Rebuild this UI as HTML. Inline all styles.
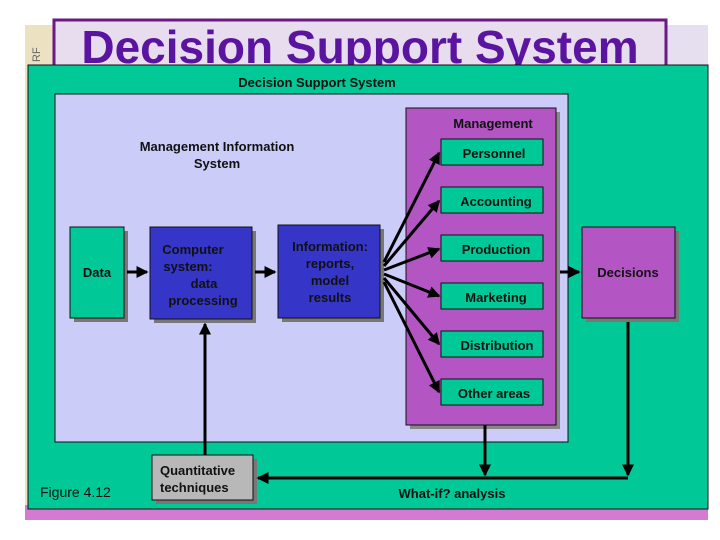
<!DOCTYPE html>
<html><head><style>
html,body{margin:0;padding:0;background:#fff;width:720px;height:540px;overflow:hidden}
svg{display:block}
text{font-family:"Liberation Sans",sans-serif;font-weight:bold;fill:#111}
</style></head><body>
<svg width="720" height="540" viewBox="0 0 720 540">
<defs>
<marker id="a" markerWidth="4" markerHeight="4" refX="3.5" refY="2" orient="auto" markerUnits="strokeWidth"><path d="M0,0L4,2L0,4z" fill="#000"/></marker>
<linearGradient id="bg" x1="0" y1="0" x2="1" y2="0"><stop offset="0" stop-color="#ece2c0"/><stop offset="0.5" stop-color="#e8e0ee"/><stop offset="1" stop-color="#e6dff0"/></linearGradient>
</defs>
<rect x="25" y="25" width="683" height="495" fill="url(#bg)"/>
<rect x="25" y="505" width="683" height="15" fill="#d47ad0"/>
<rect x="54" y="20" width="612" height="60" fill="#e8dcef" stroke="#6a1a80" stroke-width="3"/>
<text x="360" y="63" text-anchor="middle" style="font-size:46px;fill:#5a14a0">Decision Support System</text>
<text x="40" y="62" transform="rotate(-90 40 62)" style="font-size:11px;font-weight:normal;fill:#666">RF</text>
<rect x="28" y="65" width="680" height="444" fill="#00c896" stroke="#111" stroke-width="1"/>
<text x="317" y="87" text-anchor="middle" style="font-size:13px">Decision Support System</text>
<rect x="55" y="94" width="513" height="348" fill="#ccccf8" stroke="#111"/>
<text x="217" y="151" text-anchor="middle" style="font-size:13px">Management Information</text>
<text x="217" y="168" text-anchor="middle" style="font-size:13px">System</text>
<rect x="410" y="112" width="150" height="317" fill="#888"/>
<rect x="406" y="108" width="150" height="317" fill="#b455c4" stroke="#111"/>
<text x="493" y="128" text-anchor="middle" style="font-size:13px">Management</text>
<g style="font-size:13px" text-anchor="middle">
<rect x="441" y="139" width="102" height="26" fill="#00c896" stroke="#111"/><text x="494" y="158">Personnel</text>
<rect x="441" y="187" width="102" height="26" fill="#00c896" stroke="#111"/><text x="496" y="206">Accounting</text>
<rect x="441" y="235" width="102" height="26" fill="#00c896" stroke="#111"/><text x="496" y="254">Production</text>
<rect x="441" y="283" width="102" height="26" fill="#00c896" stroke="#111"/><text x="496" y="302">Marketing</text>
<rect x="441" y="331" width="102" height="26" fill="#00c896" stroke="#111"/><text x="497" y="350">Distribution</text>
<rect x="441" y="379" width="102" height="26" fill="#00c896" stroke="#111"/><text x="494" y="398">Other areas</text>
</g>
<rect x="586" y="231" width="93" height="91" fill="#777"/>
<rect x="582" y="227" width="93" height="91" fill="#b455c4" stroke="#111"/>
<text x="628" y="277" text-anchor="middle" style="font-size:13px">Decisions</text>
<rect x="74" y="231" width="54" height="91" fill="#777"/>
<rect x="70" y="227" width="54" height="91" fill="#00c896" stroke="#111"/>
<text x="97" y="277" text-anchor="middle" style="font-size:13px">Data</text>
<rect x="154" y="231" width="102" height="92" fill="#777"/>
<rect x="150" y="227" width="102" height="92" fill="#3535c8" stroke="#111"/>
<g style="font-size:13px" text-anchor="middle">
<text x="193" y="254">Computer</text><text x="188" y="271">system:</text><text x="204" y="288">data</text><text x="203" y="305">processing</text>
</g>
<rect x="282" y="229" width="102" height="93" fill="#777"/>
<rect x="278" y="225" width="102" height="93" fill="#3535c8" stroke="#111"/>
<g style="font-size:13px" text-anchor="middle">
<text x="330" y="251">Information:</text><text x="330" y="268">reports,</text><text x="330" y="285">model</text><text x="330" y="302">results</text>
</g>
<rect x="156" y="459" width="101" height="45" fill="#777"/>
<rect x="152" y="455" width="101" height="45" fill="#b8b8b8" stroke="#111"/>
<text x="160" y="475" style="font-size:13px">Quantitative</text>
<text x="160" y="492" style="font-size:13px">techniques</text>
<text x="40" y="497" style="font-size:14px;font-weight:normal">Figure 4.12</text>
<text x="452" y="498" text-anchor="middle" style="font-size:13px">What-if? analysis</text>
<g stroke="#000" stroke-width="3" fill="none">
<line x1="127" y1="272" x2="147" y2="272" marker-end="url(#a)"/>
<line x1="255" y1="272" x2="275" y2="272" marker-end="url(#a)"/>
<line x1="384" y1="262" x2="439" y2="153" marker-end="url(#a)"/>
<line x1="384" y1="266" x2="439" y2="201" marker-end="url(#a)"/>
<line x1="384" y1="270" x2="439" y2="249" marker-end="url(#a)"/>
<line x1="384" y1="274" x2="439" y2="296" marker-end="url(#a)"/>
<line x1="384" y1="278" x2="439" y2="344" marker-end="url(#a)"/>
<line x1="384" y1="282" x2="439" y2="392" marker-end="url(#a)"/>
<line x1="560" y1="272" x2="579" y2="272" marker-end="url(#a)"/>
<line x1="205" y1="455" x2="205" y2="324" marker-end="url(#a)"/>
<line x1="485" y1="425" x2="485" y2="475" marker-end="url(#a)"/>
<line x1="628" y1="322" x2="628" y2="475" marker-end="url(#a)"/>
<line x1="628" y1="478" x2="258" y2="478" marker-end="url(#a)"/>
</g>
</svg>
</body></html>
